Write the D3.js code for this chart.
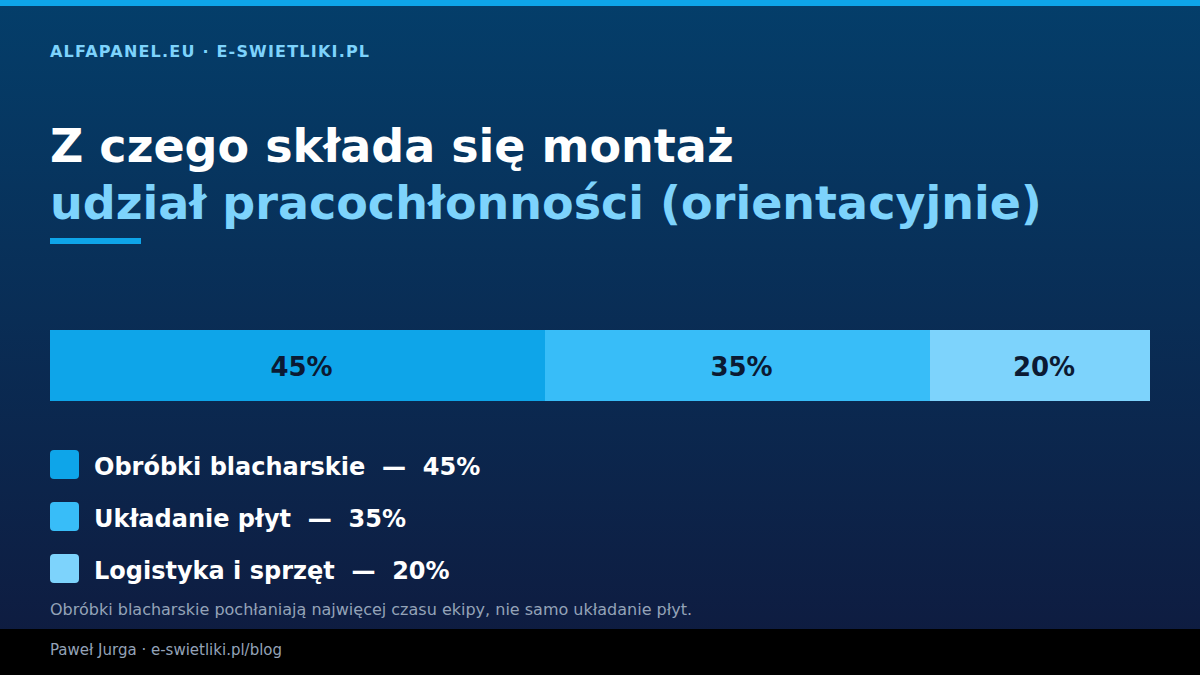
<!DOCTYPE html>
<html><head><meta charset="utf-8">
<script src="https://cdn.jsdelivr.net/npm/d3@7"></script>
<style>html,body{margin:0;padding:0;background:#000;}svg{display:block;}</style>
</head><body>
<script>
const categories = ["Obróbki blacharskie", "Układanie płyt", "Logistyka i sprzęt"];
const values = [45, 35, 20];
const colors = ["#0ea5e9", "#38bdf8", "#7dd3fc"];
const headerText = "ALFAPANEL.EU · E-SWIETLIKI.PL";
const titleText = "Z czego składa się montaż";
const subtitleText = "udział pracochłonności (orientacyjnie)";
const noteText = "Obróbki blacharskie pochłaniają najwięcej czasu ekipy, nie samo układanie płyt.";
const footerText = "Paweł Jurga · e-swietliki.pl/blog";

const W = 1200, H = 675;
const font = "DejaVu Sans, sans-serif";
const svg = d3.select("body").append("svg").attr("width", W).attr("height", H);
const defs = svg.append("defs");
const g = defs.append("linearGradient").attr("id","bg").attr("x1",0).attr("y1",0).attr("x2",0).attr("y2",1);
g.append("stop").attr("offset","0%").attr("stop-color","#043e6a");
g.append("stop").attr("offset","100%").attr("stop-color","#0f1a3e");
svg.append("rect").attr("width",W).attr("height",H).attr("fill","url(#bg)");
svg.append("rect").attr("width",W).attr("height",6).attr("fill","#0ea5e9");
svg.append("rect").attr("y",629).attr("width",W).attr("height",H-629).attr("fill","#000");

svg.append("text").attr("x",50).attr("y",57).attr("font-family",font).attr("font-weight","bold")
  .attr("font-size",16).attr("letter-spacing",1.2).attr("fill","#7dd3fc").text(headerText);
svg.append("text").attr("x",50).attr("y",162).attr("font-family",font).attr("font-weight","bold")
  .attr("font-size",46).attr("fill","#ffffff").text(titleText);
svg.append("text").attr("x",50).attr("y",219).attr("font-family",font).attr("font-weight","bold")
  .attr("font-size",46).attr("fill","#7dd3fc").text(subtitleText);
svg.append("rect").attr("x",50).attr("y",238).attr("width",91).attr("height",6).attr("fill","#0ea5e9");

// stacked bar
const total = d3.sum(values);
const x = d3.scaleLinear().domain([0,total]).range([50,1150]);
const cum = d3.cumsum(values);
const segs = values.map((v,i)=>({v, c:colors[i], x0: cum[i]-v, x1: cum[i]}));
const barY = 330, barH = 71;
const bars = svg.append("g");
bars.selectAll("rect").data(segs).join("rect")
  .attr("x",d=>x(d.x0)).attr("width",d=>x(d.x1)-x(d.x0))
  .attr("y",barY).attr("height",barH).attr("fill",d=>d.c);
bars.selectAll("text").data(segs).join("text")
  .attr("x",d=>(x(d.x0)+x(d.x1))/2+4).attr("y",376)
  .attr("text-anchor","middle").attr("font-family",font).attr("font-weight","bold")
  .attr("font-size",26).attr("fill","#0b1a33").text(d=>d.v+"%");

// legend
const leg = svg.append("g");
const rows = leg.selectAll("g").data(categories).join("g")
  .attr("transform",(d,i)=>`translate(50,${450+i*52})`);
rows.append("rect").attr("width",29).attr("height",29).attr("rx",4).attr("fill",(d,i)=>colors[i]);
rows.append("text").attr("x",44).attr("y",25).attr("font-family",font).attr("font-weight","bold")
  .attr("font-size",24).attr("fill","#ffffff").attr("xml:space","preserve")
  .text((d,i)=>`${d}  —  ${values[i]}%`);

svg.append("text").attr("x",50).attr("y",615).attr("font-family",font)
  .attr("font-size",16).attr("fill","#94a3b8").text(noteText);
svg.append("text").attr("x",50).attr("y",655).attr("font-family",font)
  .attr("font-size",15).attr("fill","#94a3b8").text(footerText);
</script>
</body></html>
